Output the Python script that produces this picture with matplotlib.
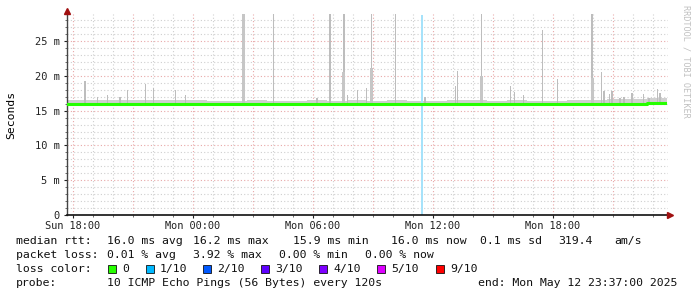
import numpy as np
import matplotlib
matplotlib.use("Agg")
import matplotlib.pyplot as plt
from matplotlib.ticker import MultipleLocator, FixedLocator, FuncFormatter

# time axis: hours after Sun 18:00, one smoke/median bin per hour
bin_hours = np.arange(30) - 0.3
median_ms = [16.03, 16.0, 16.0, 16.0, 16.0, 16.0, 16.0, 15.97, 16.0, 16.0,
             15.97, 16.0, 16.0, 15.97, 16.0, 16.0, 16.0, 16.0, 16.0, 16.02,
             16.02, 16.0, 16.0, 15.97, 16.0, 16.0, 16.0, 16.03, 16.03, 16.08]
smoke_top_ms = [16.6, 16.6, 16.5, 16.6, 16.5, 16.6, 16.5, 16.4, 16.4, 16.5,
                16.4, 16.4, 16.5, 16.4, 16.5, 16.4, 16.5, 16.4, 16.4, 16.5,
                16.5, 16.4, 16.5, 16.4, 16.4, 16.5, 16.6, 16.7, 16.7, 16.8]
smoke_low_ms = [15.8] * 30

# single ping spikes (hour, max ms)
spike_hours = [0.6, 1.23, 1.73, 2.35, 2.73, 3.63, 4.03, 5.13, 5.63,
               8.52, 10.02, 12.2, 12.85, 13.5, 13.55, 13.72, 14.23, 14.68, 14.92,
               16.13, 17.6, 19.13, 19.22, 20.42, 21.88, 22.07, 22.52, 23.48,
               24.23, 25.95, 26.43, 26.55, 26.82, 26.95, 27.35, 27.55, 27.95,
               28.53, 28.8, 29.22, 29.35]
spike_ms = [19.25, 17.0, 17.2, 17.0, 18.0, 18.9, 18.3, 18.0, 17.2,
            29.0, 29.0, 16.8, 29.0, 20.5, 29.0, 17.2, 18.0, 18.2, 29.0,
            29.0, 17.0, 18.6, 20.7, 29.0, 18.6, 17.7, 17.3, 26.6,
            19.6, 29.0, 20.6, 17.8, 17.4, 17.9, 16.8, 17.0, 17.5,
            17.4, 16.8, 18.1, 17.6]
wide_spike_hours = [8.52, 13.5, 14.92, 20.42, 25.95]
wide_spike_ms = [29.0, 20.5, 21.2, 20.0, 19.7]

loss_hours = [17.43]

xtick_hours = [0, 6, 12, 18, 24]
xtick_labels = ['Sun 18:00', 'Mon 00:00', 'Mon 06:00', 'Mon 12:00', 'Mon 18:00']

loss_labels = ['0', '1/10', '2/10', '3/10', '4/10', '5/10', '9/10']
loss_colors = ['#26ff00', '#00b8ff', '#0059ff', '#5e00ff', '#7e00ff', '#dd00ff', '#ff0000']

W, H = 697, 297
fig = plt.figure(figsize=(W / 100, H / 100), dpi=100)
ax = fig.add_axes([67 / W, (H - 215) / H, (668 - 67) / W, (215 - 14) / H])

mono = 'DejaVu Sans Mono'

# smoke
ax.bar(bin_hours, np.array(smoke_top_ms) - np.array(smoke_low_ms), bottom=smoke_low_ms,
       width=1.0, align='edge', color='#d0d0d0', linewidth=0, zorder=2)
ax.bar(spike_hours, np.array(spike_ms) - 16.0, bottom=16.0, width=0.085,
       color='#bdbdbd', linewidth=0, zorder=2)
ax.bar(wide_spike_hours, np.array(wide_spike_ms) - 16.0, bottom=16.0, width=0.15,
       color='#c6c6c6', linewidth=0, zorder=2)

# loss stripe
for h in loss_hours:
    ax.axvspan(h - 0.05, h + 0.05, ymin=0, ymax=0.995, color='#a6e2fa', lw=0, zorder=2)

# median
ax.plot(np.append(bin_hours, 29.62), median_ms + [median_ms[-1]], drawstyle='steps-post',
        color=loss_colors[0], lw=2.2, zorder=3)

ax.set_xlim(-0.3, 29.75)
ax.set_ylim(0, 28.9)

ax.xaxis.set_major_locator(FixedLocator(xtick_hours))
ax.set_xticklabels(xtick_labels, fontsize=7.4, family=mono)
ax.xaxis.set_minor_locator(MultipleLocator(1))
ax.yaxis.set_major_locator(MultipleLocator(5))
ax.yaxis.set_minor_locator(MultipleLocator(1))
ax.yaxis.set_major_formatter(FuncFormatter(lambda v, p: '0' if v == 0 else '%d m' % v))
for lab in ax.get_yticklabels():
    lab.set_family(mono)
ax.tick_params(axis='y', labelsize=7.5, length=2, width=0.8, pad=3, colors='#222222')
ax.tick_params(axis='x', length=2, width=0.8, pad=2, colors='#222222')
ax.tick_params(which='minor', length=1.5, width=0.6, colors='#555555')

# grid: minor grey, major (every 3 h / 5 ms) reddish
for h in np.arange(0, 30, 1):
    c = '#e8a8a8' if h % 3 == 0 else '#cfcfcf'
    ax.axvline(h, color=c, lw=0.8, ls=(0, (1, 2)), zorder=1)
for v in np.arange(1, 29, 1):
    c = '#e8a8a8' if v % 5 == 0 else '#cfcfcf'
    ax.axhline(v, color=c, lw=0.8, ls=(0, (1, 2)), zorder=1)

for s in ['top', 'right']:
    ax.spines[s].set_visible(False)
ax.spines['left'].set_color('#444444')
ax.spines['bottom'].set_color('#111111')
ax.spines['left'].set_linewidth(1.0)
ax.spines['bottom'].set_linewidth(1.2)

# axis arrows
ax.plot([-0.3], [29.4], marker='^', color='#a01010', ms=4, clip_on=False, zorder=5)
ax.plot([29.85], [0], marker='>', color='#a01010', ms=4, clip_on=False, zorder=5)

ax.set_ylabel('Seconds', family=mono, fontsize=8.2)
ax.yaxis.set_label_coords(-51 / 601, 0.5)

fig.text(686 / W, 1 - 5 / H, 'RRDTOOL / TOBI OETIKER', rotation=270, ha='center', va='top',
         family=mono, fontsize=6.1, color='#c0c0c0')


def put(x, y, s, **kw):
    fig.text(x / W, 1 - y / H, s, va='center', ha='left', family=mono, fontsize=8.25,
             color='#111111', **kw)


put(16, 241, 'median rtt:')
for x, s in zip([107, 193, 293, 391, 480, 558, 614],
                ['16.0 ms avg', '16.2 ms max', '15.9 ms min', '16.0 ms now',
                 '0.1 ms sd', '319.4', 'am/s']):
    put(x, 241, s)

put(16, 255, 'packet loss:')
for x, s in zip([107, 193, 279, 365],
                ['0.01 % avg', '3.92 % max', '0.00 % min', '0.00 % now']):
    put(x, 255, s)

put(16, 269, 'loss color:')
sq_x = [108, 146, 203, 261, 319, 377, 436]
for x, c, lab in zip(sq_x, loss_colors, loss_labels):
    fig.patches.append(plt.Rectangle((x / W, 1 - 273 / H), 8 / W, 8 / H,
                                     transform=fig.transFigure, facecolor=c,
                                     edgecolor='#111111', lw=0.6))
    put(x + 14, 269, lab)

put(16, 283, 'probe:')
put(107, 283, '10 ICMP Echo Pings (56 Bytes) every 120s')
put(478, 283, 'end: Mon May 12 23:37:00 2025')

fig.savefig('out.png', dpi=100, facecolor='white')
